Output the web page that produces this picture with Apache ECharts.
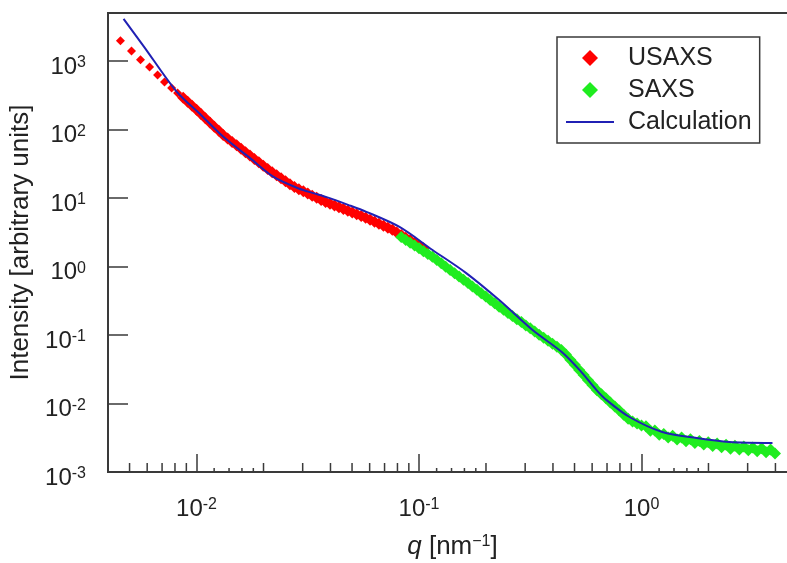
<!DOCTYPE html>
<html>
<head>
<meta charset="utf-8">
<script src="https://cdn.jsdelivr.net/npm/echarts@6/dist/echarts.min.js"></script>
<style>
  html, body { margin: 0; padding: 0; background: #fff; }
  #chart { width: 787px; height: 563px; }
</style>
</head>
<body>
<div id="chart"></div>
<script>
// USAXS (red diamonds)
const usaxsQ = [0.00455, 0.0051, 0.0056, 0.00615, 0.00668, 0.00718, 0.00773, 0.00822,
  0.00871, 0.00912, 0.00955, 0.0100, 0.01047, 0.01096, 0.01148, 0.01202, 0.01259, 0.01318,
  0.0138, 0.01445, 0.01514, 0.01585, 0.0166, 0.01738, 0.0182, 0.01905, 0.01995, 0.02089,
  0.02188, 0.02291, 0.02399, 0.02512, 0.0263, 0.02754, 0.02884, 0.0302, 0.03162, 0.03311,
  0.03467, 0.03631, 0.03802, 0.03981, 0.04169, 0.04365, 0.04571, 0.04786, 0.05012, 0.05248,
  0.05495, 0.05754, 0.06026, 0.0631, 0.06607, 0.06918, 0.07244, 0.07586, 0.07943, 0.08318,
  0.0871, 0.0912, 0.0955, 0.1, 0.1047];
const usaxsI = [1960, 1400, 1035, 815, 625, 493, 403, 341,
  288.7, 252.5, 220.9, 193.2, 167.8, 145.7, 126.5, 109.8, 95.4, 82.8,
  73.7, 65.7, 58.5, 52.2, 46.6, 41.6, 37.1, 33.2, 29.6, 26.5,
  23.7, 21.4, 19.3, 17.5, 15.8, 14.4, 13.4, 12.5, 11.6, 10.8,
  10.05, 9.35, 8.75, 8.25, 7.78, 7.33, 6.92, 6.52, 6.15, 5.79,
  5.46, 5.15, 4.82, 4.50, 4.20, 3.93, 3.67, 3.42, 3.14, 2.87,
  2.63, 2.41, 2.20, 2.02, 1.85];

// SAXS (green diamonds)
const saxsQ = [0.08318, 0.0871, 0.0912, 0.0955, 0.1, 0.1047, 0.1096, 0.1148, 0.1202, 0.1259,
  0.1318, 0.138, 0.1445, 0.1514, 0.1585, 0.166, 0.1738, 0.182, 0.1905, 0.1995,
  0.2089, 0.2188, 0.2291, 0.2399, 0.2512, 0.263, 0.2754, 0.2884, 0.302, 0.3162,
  0.3311, 0.3467, 0.3631, 0.3802, 0.3981, 0.4169, 0.4365, 0.4571, 0.4786, 0.5012,
  0.5248, 0.5495, 0.5754, 0.6026, 0.631, 0.6607, 0.6918, 0.7244, 0.7586, 0.7943,
  0.8318, 0.871, 0.912, 0.955, 1.0, 1.047, 1.096, 1.148, 1.202, 1.259,
  1.318, 1.38, 1.445, 1.514, 1.585, 1.66, 1.738, 1.82, 1.905, 1.995,
  2.089, 2.188, 2.291, 2.399, 2.512, 2.63, 2.754, 2.884, 3.02, 3.162,
  3.311, 3.467, 3.631, 3.802, 3.981];
const saxsI = [2.68, 2.44, 2.22, 2.02, 1.84, 1.67, 1.52, 1.38, 1.24, 1.11,
  0.994, 0.890, 0.797, 0.713, 0.639, 0.571, 0.510, 0.456, 0.407, 0.364,
  0.325, 0.290, 0.259, 0.233, 0.210, 0.189, 0.170, 0.154, 0.138, 0.125,
  0.112, 0.101, 0.0914, 0.0824, 0.0743, 0.0671, 0.0605, 0.0518, 0.0436, 0.0367,
  0.0309, 0.0260, 0.0219, 0.0185, 0.0156, 0.0136, 0.0119, 0.01035, 0.00903, 0.00787,
  0.00686, 0.00598, 0.00547, 0.00511, 0.00478, 0.00465, 0.00400, 0.00405, 0.00350, 0.00360,
  0.00318, 0.00338, 0.00298, 0.00318, 0.00281, 0.00301, 0.00264, 0.00284, 0.00251, 0.00271,
  0.00240, 0.00260, 0.00229, 0.00249, 0.00219, 0.00241, 0.00213, 0.00235, 0.00207, 0.00228,
  0.00201, 0.00222, 0.00195, 0.00213, 0.00186];

// Calculation (blue line)
const calcQ = [0.0047, 0.0058, 0.0081, 0.0105, 0.0132, 0.0175, 0.0222, 0.029, 0.0335, 0.0384,
  0.048, 0.058, 0.0817, 0.115, 0.163, 0.23, 0.324, 0.442, 0.53, 0.628,
  0.697, 0.883, 1.24, 1.77, 2.49, 3.88];
const calcI = [4100, 1620, 363, 161, 78, 37.5, 20.3, 13.6, 11.75, 10.26,
  7.93, 6.27, 3.77, 1.74, 0.80, 0.32, 0.118, 0.055, 0.0301, 0.0157,
  0.0112, 0.00635, 0.00384, 0.00313, 0.00274, 0.00265];

// extra x-axis ticks (decade ticks come from the axis itself)
const mediumTicks = [0.005, 0.006, 0.007, 0.008, 0.009,
  0.02, 0.03, 0.04, 0.05, 0.06, 0.07, 0.08, 0.09,
  0.2, 0.3, 0.4, 0.5, 0.6, 0.7, 0.8, 0.9,
  2, 3, 4];
const smallTicks = [0.012, 0.014, 0.016, 0.018, 0.12, 0.14, 0.16, 0.18, 1.2, 1.4, 1.6, 1.8];

const FONT = '"Liberation Sans", Arial, sans-serif';
const INK = '#222';
const AXIS = '#3a3a3a';

const pairs = (xs, ys) => xs.map((x, i) => [x, ys[i]]);

const powRich = {
  b: { fontSize: 24, fontFamily: FONT, color: INK, lineHeight: 24, verticalAlign: 'bottom' },
  s: { fontSize: 16, fontFamily: FONT, color: INK, lineHeight: 16, padding: [0, 0, 14, 0], verticalAlign: 'top' }
};
function powLabel(v) {
  const e = Math.log10(v);
  const r = Math.round(e);
  if (Math.abs(e - r) > 1e-6) return '';
  return '{b|10}{s|' + r + '}';
}

function tickSeries(values, len) {
  return {
    type: 'custom',
    silent: true,
    z: 5,
    data: values.map(v => [v, 1e-3]),
    renderItem: function (params, api) {
      const p = api.coord([api.value(0), api.value(1)]);
      return {
        type: 'line',
        shape: { x1: p[0], y1: p[1], x2: p[0], y2: p[1] - len },
        style: { stroke: AXIS, lineWidth: 1.5 }
      };
    }
  };
}

// the isolated low-q points are a bit smaller than the dense band
const bandSize = v => (v[0] < 0.0085 ? 9 : 12);
// diamond centred in a 48x16 box so the legend does not stretch it
const legendDiamond = 'path://M0,0M48,16M24,0L32,8L24,16L16,8Z';

const option = {
  animation: false,
  backgroundColor: '#fff',
  grid: {
    left: 108, right: -10, top: 13, bottom: 91,
    outerBoundsMode: 'none',
    show: true, borderColor: AXIS, borderWidth: 2, backgroundColor: 'transparent'
  },
  legend: {
    orient: 'vertical',
    left: 557, top: 37,
    padding: [8, 8, 8, 8],
    itemWidth: 48, itemHeight: 16, itemGap: 6,
    borderColor: AXIS, borderWidth: 1.5,
    textStyle: { fontFamily: FONT, fontSize: 25, color: INK, lineHeight: 26, padding: [0, 0, 0, 9] },
    data: [
      { name: 'USAXS', icon: legendDiamond },
      { name: 'SAXS', icon: legendDiamond },
      { name: 'Calculation', itemStyle: { opacity: 0 } }
    ]
  },
  xAxis: {
    type: 'log', logBase: 10,
    min: 0.004, max: 5,
    name: '{i|q}{b| [nm}{s|\u22121}{b|]}',
    nameLocation: 'middle', nameGap: 62,
    nameTextStyle: {
      rich: {
        i: { fontSize: 26, fontFamily: FONT, color: INK, fontStyle: 'italic', lineHeight: 26, verticalAlign: 'bottom' },
        b: { fontSize: 26, fontFamily: FONT, color: INK, lineHeight: 26, verticalAlign: 'bottom' },
        s: { fontSize: 16, fontFamily: FONT, color: INK, lineHeight: 16, padding: [0, 0, 9, 0], verticalAlign: 'top' }
      }
    },
    axisLine: { lineStyle: { color: AXIS, width: 2 } },
    axisTick: { inside: true, length: 18, lineStyle: { color: AXIS, width: 1.5 } },
    minorTick: { show: false },
    splitLine: { show: false },
    axisLabel: { margin: 25, formatter: powLabel, rich: powRich }
  },
  yAxis: {
    type: 'log', logBase: 10,
    min: 0.001, max: 5000,
    name: 'Intensity [arbitrary units]',
    nameLocation: 'middle', nameGap: 63,
    nameTextStyle: { fontFamily: FONT, fontSize: 26, color: INK },
    axisLine: { lineStyle: { color: AXIS, width: 2 } },
    axisTick: { inside: true, length: 20, lineStyle: { color: AXIS, width: 1.5 } },
    splitLine: { show: false },
    axisLabel: { margin: 22, padding: [12, 0, 0, 0], formatter: powLabel, rich: powRich }
  },
  series: [
    {
      name: 'USAXS', type: 'scatter', symbol: 'diamond', symbolSize: bandSize,
      itemStyle: { color: '#ff0000', opacity: 1 },
      data: pairs(usaxsQ, usaxsI)
    },
    {
      name: 'SAXS', type: 'scatter', symbol: 'diamond', symbolSize: 12,
      itemStyle: { color: '#1fec1f', opacity: 1 },
      data: pairs(saxsQ, saxsI)
    },
    {
      name: 'Calculation', type: 'line', smooth: 0.3, symbol: 'none',
      lineStyle: { color: '#2020b4', width: 2 },
      itemStyle: { color: '#2020b4' },
      data: pairs(calcQ, calcI)
    },
    tickSeries(mediumTicks, 9),
    tickSeries(smallTicks, 4)
  ]
};

const chart = echarts.init(document.getElementById('chart'));
chart.setOption(option);
window.onresize = () => chart.resize();
</script>
</body>
</html>
